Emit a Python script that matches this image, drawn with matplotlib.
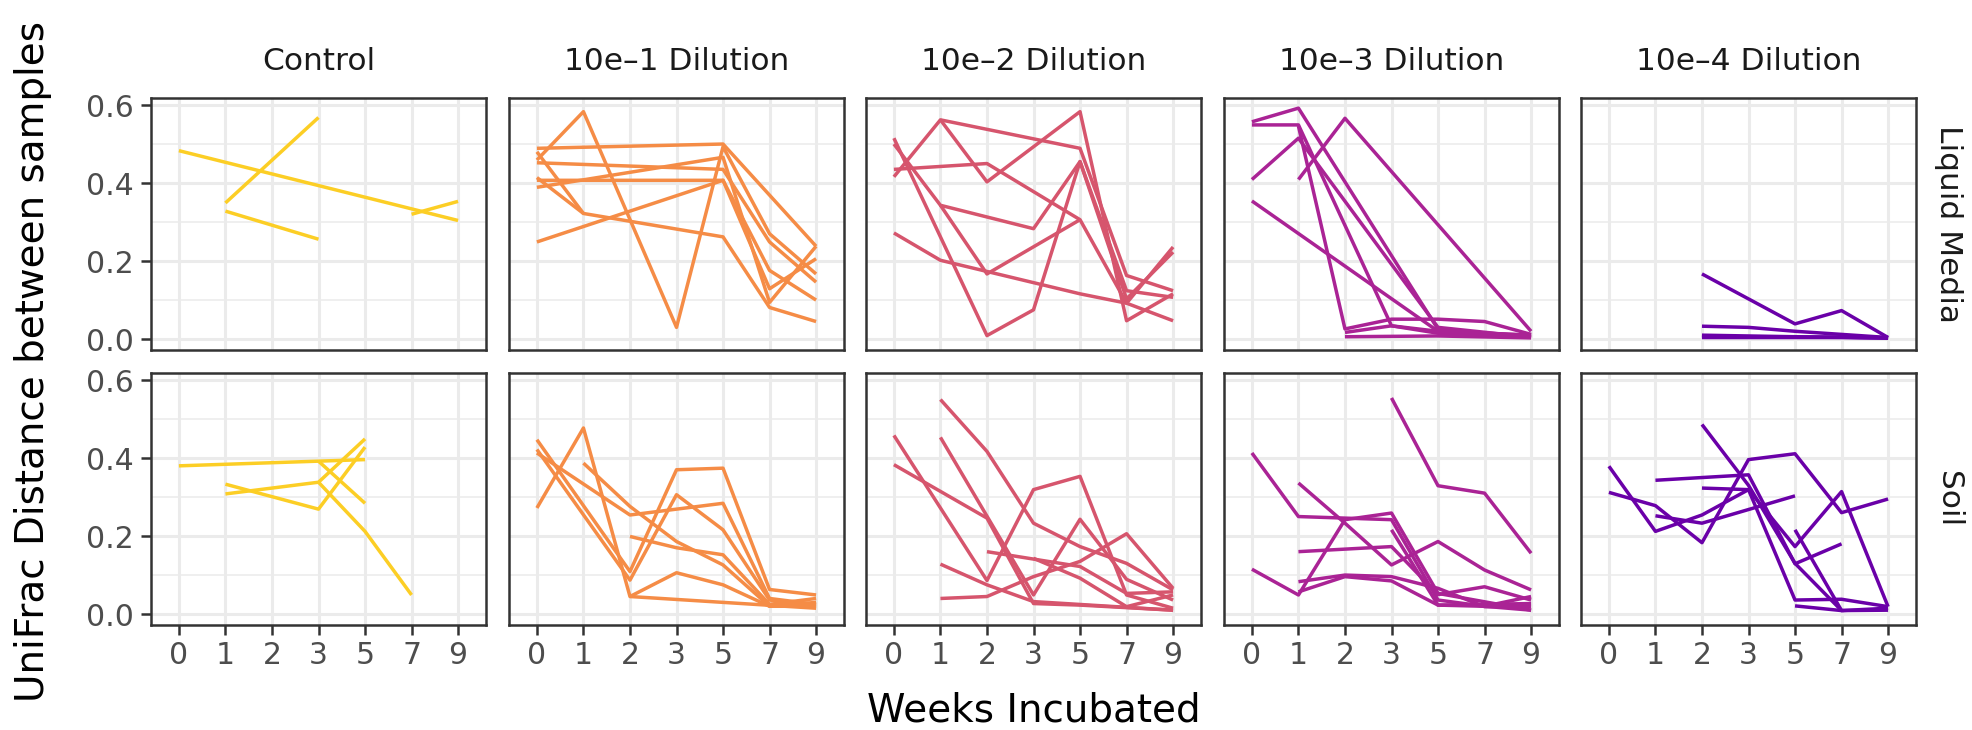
import matplotlib
matplotlib.use("Agg")
import matplotlib.pyplot as plt
from matplotlib import cm
import numpy as np

plt.rcParams['font.family'] = ['DejaVu Sans']

N = None
weeks = [0, 1, 2, 3, 5, 7, 9]
week_labels = ["0", "1", "2", "3", "5", "7", "9"]
dilutions = ["Control", "10e\u20131 Dilution", "10e\u20132 Dilution",
             "10e\u20133 Dilution", "10e\u20134 Dilution"]
media = ["Liquid Media", "Soil"]
y_ticks = [0.0, 0.2, 0.4, 0.6]
y_tick_labels = ["0.0", "0.2", "0.4", "0.6"]

# each line: values at weeks 0,1,2,3,5,7,9 (None = not sampled)
liquid_control = [
    [0.483, N, N, N, N, N, 0.304],
    [N, 0.349, N, 0.568, N, N, N],
    [N, 0.328, N, 0.256, N, N, N],
    [N, N, N, N, N, 0.320, 0.353],
]
liquid_d1 = [
    [0.489, N, N, N, 0.500, N, 0.238],
    [0.459, 0.583, N, 0.030, 0.493, 0.270, 0.167],
    [0.480, 0.322, N, N, 0.262, 0.081, 0.045],
    [0.452, N, N, N, 0.435, 0.249, 0.146],
    [0.407, N, N, N, 0.407, 0.176, 0.100],
    [0.389, N, N, N, 0.466, 0.094, 0.238],
    [0.249, N, N, N, 0.407, 0.129, 0.206],
    [0.414, 0.322, N, N, N, N, N],
]
liquid_d2 = [
    [0.416, 0.562, N, N, 0.489, 0.163, 0.124],
    [0.435, N, 0.450, N, 0.306, 0.092, 0.236],
    [0.515, N, 0.009, 0.075, 0.455, 0.103, 0.223],
    [0.500, 0.343, N, 0.283, 0.455, 0.124, 0.107],
    [N, 0.562, 0.403, N, 0.583, 0.047, 0.116],
    [0.272, 0.202, N, N, 0.116, 0.092, 0.047],
    [N, 0.343, 0.167, N, 0.306, N, N],
]
liquid_d3 = [
    [0.557, 0.592, N, N, 0.025, 0.015, 0.010],
    [0.549, 0.549, N, 0.034, 0.020, 0.012, 0.008],
    [0.409, 0.515, N, N, 0.030, N, 0.005],
    [N, 0.409, 0.566, N, N, N, 0.020],
    [0.354, N, N, N, 0.020, N, 0.010],
    [N, 0.546, 0.026, 0.051, 0.051, 0.045, 0.012],
    [N, N, 0.006, N, 0.008, N, 0.003],
    [N, N, 0.017, 0.034, 0.015, 0.010, 0.006],
]
liquid_d4 = [
    [N, N, 0.167, N, 0.039, 0.073, 0.004],
    [N, N, 0.033, 0.030, 0.020, N, 0.004],
    [N, N, 0.006, N, 0.005, N, 0.004],
    [N, N, 0.010, 0.008, 0.006, 0.005, 0.003],
    [N, N, 0.004, N, N, 0.004, 0.002],
]
soil_control = [
    [0.380, N, N, 0.392, 0.396, N, N],
    [N, 0.333, N, 0.269, 0.428, N, N],
    [N, 0.308, N, 0.338, 0.449, N, N],
    [N, N, N, 0.338, 0.212, 0.049, N],
    [N, N, N, 0.392, 0.284, N, N],
]
soil_d1 = [
    [0.272, 0.477, 0.045, 0.106, 0.075, 0.020, 0.020],
    [0.447, N, 0.109, 0.370, 0.374, 0.063, 0.049],
    [0.422, N, 0.087, 0.306, 0.216, 0.036, 0.020],
    [0.413, N, 0.254, N, 0.284, 0.040, 0.025],
    [N, 0.387, 0.276, 0.186, 0.126, 0.020, 0.030],
    [N, N, 0.199, 0.170, 0.152, 0.025, 0.040],
    [N, N, 0.045, N, N, N, 0.015],
]
soil_d2 = [
    [N, 0.550, 0.417, 0.233, 0.173, 0.130, 0.062],
    [0.458, N, 0.086, 0.319, 0.353, 0.049, 0.015],
    [0.383, N, 0.246, 0.027, 0.023, N, 0.010],
    [N, 0.453, N, 0.049, 0.243, 0.089, 0.036],
    [N, 0.128, 0.075, 0.032, N, N, 0.010],
    [N, 0.040, 0.045, 0.096, 0.135, 0.206, 0.066],
    [N, N, 0.160, N, 0.122, 0.053, 0.057],
    [N, N, N, 0.143, 0.092, 0.019, 0.049],
]
soil_d3 = [
    [N, N, N, 0.554, 0.329, 0.310, 0.156],
    [0.413, 0.250, N, 0.242, 0.036, 0.020, 0.045],
    [N, 0.336, 0.233, 0.126, 0.186, 0.113, 0.062],
    [N, 0.160, N, 0.173, 0.050, 0.070, 0.036],
    [0.115, 0.049, 0.242, 0.259, 0.053, N, 0.010],
    [N, 0.083, 0.100, 0.096, 0.066, 0.019, 0.019],
    [N, 0.057, 0.096, 0.085, 0.023, 0.020, 0.010],
    [N, N, N, 0.216, 0.023, N, 0.027],
]
soil_d4 = [
    [0.312, 0.278, 0.183, 0.396, 0.411, 0.260, 0.295],
    [0.379, 0.212, 0.254, 0.319, 0.173, 0.314, 0.019],
    [N, 0.343, N, 0.357, 0.129, 0.180, N],
    [N, 0.252, 0.233, N, 0.303, N, N],
    [N, N, 0.323, 0.319, 0.036, 0.038, 0.019],
    [N, N, 0.486, 0.330, 0.130, 0.009, 0.010],
    [N, N, N, N, 0.216, 0.009, N],
    [N, N, N, N, 0.021, 0.009, 0.015],
]

panels = [
    [liquid_control, liquid_d1, liquid_d2, liquid_d3, liquid_d4],
    [soil_control, soil_d1, soil_d2, soil_d3, soil_d4],
]

colors = [cm.plasma(v) for v in np.linspace(0.9, 0.2, 5)]

W, H = 1972, 730
fig = plt.figure(figsize=(W / 100, H / 100), dpi=100)

lefts = [151, 509, 866, 1224, 1581]
pw = 335
tops = [98, 373]
ph = 252

frame_col = "#333333"
for r in range(2):
    for c in range(5):
        ax = fig.add_axes([lefts[c] / W, 1 - (tops[r] + ph) / H, pw / W, ph / H])
        pos = np.arange(len(weeks))
        for line in panels[r][c]:
            xs = [p for p, v in zip(pos, line) if v is not None]
            ys = [v for v in line if v is not None]
            ax.plot(xs, ys, color=colors[c], lw=2.5, solid_capstyle='butt',
                    solid_joinstyle='round', zorder=3)
        ax.set_xlim(-0.6, len(weeks) - 1 + 0.6)
        ax.set_ylim(-0.028, 0.618)
        ax.set_xticks(pos)
        ax.set_yticks(y_ticks)
        ax.set_yticks([0.1, 0.3, 0.5], minor=True)
        ax.grid(True, which='major', color='#EBEBEB', lw=2.2, zorder=0)
        ax.grid(True, which='minor', axis='y', color='#EBEBEB', lw=1.1, zorder=0)
        ax.set_axisbelow(True)
        for s in ax.spines.values():
            s.set_color(frame_col)
            s.set_linewidth(1.8)
            s.set_zorder(5)
        ax.tick_params(which='minor', length=0)
        ax.tick_params(which='major', length=7.5, width=1.8, color=frame_col,
                       labelsize=21.5, labelcolor='#4D4D4D')
        ax.tick_params(axis='y', pad=5)
        ax.tick_params(axis='x', pad=4)
        if r == 1:
            ax.set_xticklabels(week_labels)
        else:
            ax.tick_params(axis='x', length=0, labelbottom=False)
        if c == 0:
            ax.set_yticklabels(y_tick_labels)
        else:
            ax.tick_params(axis='y', length=0, labelleft=False)
        if r == 0:
            fig.text((lefts[c] + pw / 2) / W, 1 - 62 / H, dilutions[c],
                     ha='center', va='center', fontsize=22.5, color='#1A1A1A')
        if c == 4:
            fig.text(1948 / W, 1 - (tops[r] + ph / 2) / H, media[r],
                     ha='center', va='center', rotation=270,
                     fontsize=22.5, color='#1A1A1A')

fig.text((lefts[0] + lefts[4] + pw) / 2 / W, 1 - 722 / H, "Weeks Incubated",
         ha='center', va='baseline', fontsize=28, color='black')
fig.text(33 / W, 1 - (tops[0] + tops[1] + ph) / 2 / H,
         "UniFrac Distance between samples", ha='center', va='center',
         rotation=90, fontsize=28, color='black')

fig.savefig("out.png", dpi=100)
